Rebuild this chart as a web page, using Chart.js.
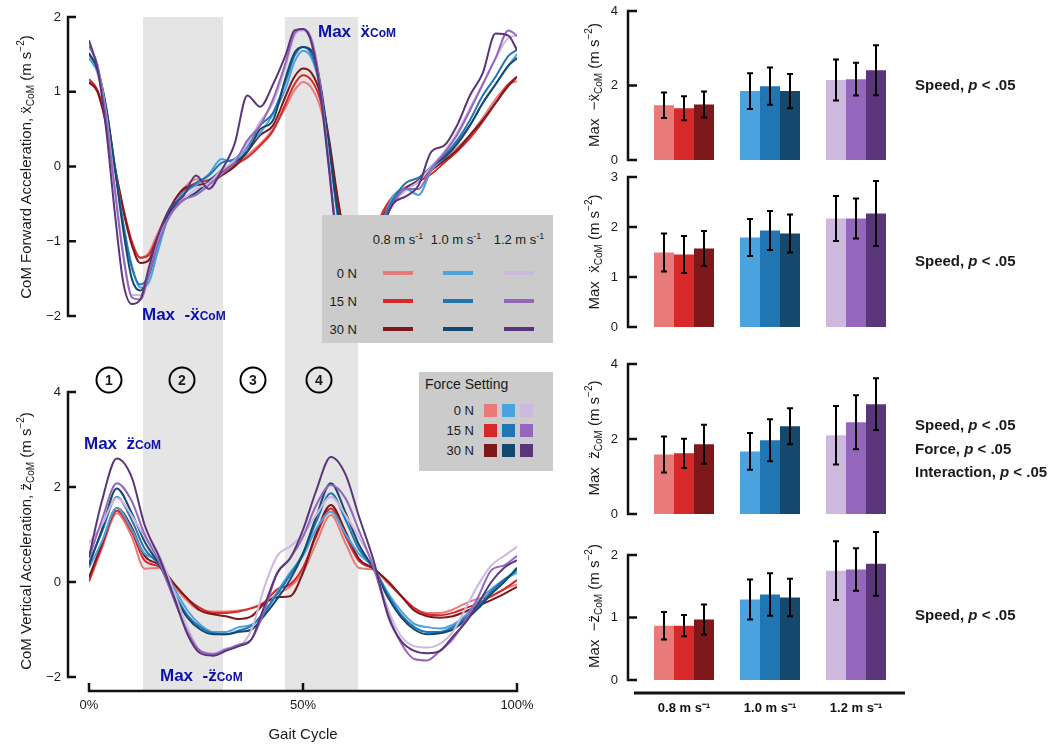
<!DOCTYPE html>
<html>
<head>
<meta charset="utf-8">
<script src="https://cdn.jsdelivr.net/npm/chart.js@4.4.1/dist/chart.umd.min.js"></script>
<style>
  body { margin: 0; background: #fff; }
  #fig { position: relative; width: 1063px; height: 745px; overflow: hidden;
         font-family: "Liberation Sans", Arial, sans-serif; color: #1a1a1a; }
  canvas { position: absolute; }
  .ytitle { position: absolute; transform: translate(-50%, -50%) rotate(-90deg);
            white-space: nowrap; font-size: 15px; }
  .ytitle sub { font-size: 10px; vertical-align: -3px; }
  .ytitle sup { font-size: 10px; vertical-align: 7px; }
  .note { position: absolute; color: #0c10aa; font-weight: bold; font-size: 17px;
          line-height: 1; white-space: nowrap; }
  .note small { font-size: 12px; }
  .phase { position: absolute; width: 23px; height: 23px; border: 2px solid #000; border-radius: 50%;
           transform: translate(-50%, -50%); font-weight: bold; font-size: 14px;
           line-height: 23px; text-align: center; }
  .legbox { position: absolute; background: #cbcbcb; }
  .lc { position: absolute; transform: translate(-50%, -50%); font-size: 13px; white-space: nowrap; }
  .lr { position: absolute; transform: translate(-100%, -50%); font-size: 13px; white-space: nowrap; }
  .ll { position: absolute; transform: translate(0, -50%); font-size: 14px; white-space: nowrap; }
  .lc sup { font-size: 9px; }
  .sw { position: absolute; }
  .stat { position: absolute; left: 915px; transform: translateY(-50%); font-weight: bold;
          font-size: 15px; white-space: nowrap; }
</style>
</head>
<body>
<div id="fig">
  <canvas id="fwd" width="530" height="340" style="left:0;top:0"></canvas>
  <canvas id="vert" width="545" height="405" style="left:0;top:340px"></canvas>
  <canvas id="barNegX" width="533" height="168" style="left:530px;top:0"></canvas>
  <canvas id="barX" width="533" height="172" style="left:530px;top:168px"></canvas>
  <canvas id="barZ" width="533" height="190" style="left:530px;top:340px"></canvas>
  <canvas id="barNegZ" width="533" height="215" style="left:530px;top:530px"></canvas>

  <!-- axis titles -->
  <div class="ytitle" style="left:25px;top:167px">CoM Forward Acceleration, ẍ<sub>CoM</sub> (m s<sup>−2</sup>)</div>
  <div class="ytitle" style="left:25px;top:541px">CoM Vertical Acceleration, z̈<sub>CoM</sub> (m s<sup>−2</sup>)</div>
  <div class="ytitle" style="left:593px;top:85px">Max&nbsp; −ẍ<sub>CoM</sub> (m s<sup>−2</sup>)</div>
  <div class="ytitle" style="left:593px;top:252px">Max&nbsp; ẍ<sub>CoM</sub> (m s<sup>−2</sup>)</div>
  <div class="ytitle" style="left:593px;top:438px">Max&nbsp; z̈<sub>CoM</sub> (m s<sup>−2</sup>)</div>
  <div class="ytitle" style="left:593px;top:606px">Max&nbsp; −z̈<sub>CoM</sub> (m s<sup>−2</sup>)</div>

  <!-- peak labels -->
  <div class="note" style="left:318px;top:23px">Max&nbsp; ẍ<small>CoM</small></div>
  <div class="note" style="left:142px;top:306px">Max&nbsp; -ẍ<small>CoM</small></div>
  <div class="note" style="left:84px;top:435px">Max&nbsp; z̈<small>CoM</small></div>
  <div class="note" style="left:160px;top:667px">Max&nbsp; -z̈<small>CoM</small></div>

  <!-- gait phases -->
  <div class="phase" style="left:109px;top:380px">1</div>
  <div class="phase" style="left:182px;top:380px">2</div>
  <div class="phase" style="left:253px;top:380px">3</div>
  <div class="phase" style="left:319px;top:380px">4</div>

  <!-- line legend -->
  <div class="legbox" style="left:322px;top:215px;width:231px;height:128px"></div>
  <div class="lc" style="left:398px;top:239px">0.8 m s<sup>-1</sup></div>
  <div class="lc" style="left:456px;top:239px">1.0 m s<sup>-1</sup></div>
  <div class="lc" style="left:519px;top:239px">1.2 m s<sup>-1</sup></div>
  <div class="lr" style="left:357px;top:273px">0 N</div>
  <div class="lr" style="left:357px;top:301px">15 N</div>
  <div class="lr" style="left:357px;top:329px">30 N</div>
  <div id="lineKey"></div>

  <!-- force legend -->
  <div class="legbox" style="left:419px;top:372px;width:134px;height:99px"></div>
  <div class="ll" style="left:425px;top:384px">Force Setting</div>
  <div class="lr" style="left:474px;top:410px">0 N</div>
  <div class="lr" style="left:474px;top:430px">15 N</div>
  <div class="lr" style="left:474px;top:450px">30 N</div>
  <div id="forceKey"></div>

  <!-- ANOVA results -->
  <div class="stat" style="top:84px">Speed, <i>p</i> &lt; .05</div>
  <div class="stat" style="top:260px">Speed, <i>p</i> &lt; .05</div>
  <div class="stat" style="top:424px">Speed, <i>p</i> &lt; .05</div>
  <div class="stat" style="top:448px">Force, <i>p</i> &lt; .05</div>
  <div class="stat" style="top:471px">Interaction, <i>p</i> &lt; .05</div>
  <div class="stat" style="top:614px">Speed, <i>p</i> &lt; .05</div>
</div>

<script>
// gait cycle (%) sample points
const GAIT_FWD = [0, 2, 4, 6, 8, 10, 12, 14, 16, 19, 22, 25, 28, 31, 34, 37, 40, 43, 46, 48,
                  50, 52, 54, 56, 58, 60, 62, 65, 68, 71, 74, 77, 80, 83, 86, 89, 92, 95, 98, 100];
const GAIT_VERT = [0, 3, 6.5, 10, 13, 16.5, 20, 23, 26, 29, 32, 35, 38, 41, 44, 47, 50,
                   53, 56.5, 60, 63, 66.5, 70, 73, 76, 79, 82, 85, 88, 91, 94, 97, 100];
const PHASES = [[12.6, 31.3], [45.8, 62.9]];

const SPEED_LABELS = ['0.8 m s⁻¹', '1.0 m s⁻¹', '1.2 m s⁻¹'];
const FORCE_LABELS = ['0 N', '15 N', '30 N'];
const RED = ['#e87a7a', '#d7282a', '#7e181b'];
const BLUE = ['#4aa2de', '#1f76b3', '#14486d'];
const PURPLE = ['#cdb9dd', '#9467bd', '#5a3579'];
const SPEED_COLORS = [RED, BLUE, PURPLE];

// forward CoM acceleration, one row per force (0, 15, 30 N)
const FWD_08 = [
  [1.12, 1.0, 0.55, -0.05, -0.6, -1.02, -1.22, -1.15, -0.9, -0.55, -0.3, -0.17, -0.2, -0.1, 0.0, 0.15, 0.3, 0.5, 0.8, 1.02,
   1.13, 1.05, 0.8, 0.3, -0.45, -1.0, -1.22, -1.1, -0.7, -0.42, -0.3, -0.2, -0.05, 0.1, 0.25, 0.42, 0.65, 0.9, 1.1, 1.14],
  [1.17, 1.02, 0.6, 0.0, -0.55, -1.0, -1.22, -1.18, -0.95, -0.6, -0.33, -0.22, -0.18, -0.08, 0.02, 0.12, 0.28, 0.48, 0.85, 1.1,
   1.22, 1.15, 0.9, 0.35, -0.42, -0.98, -1.22, -1.12, -0.68, -0.4, -0.28, -0.2, -0.1, 0.05, 0.2, 0.38, 0.6, 0.85, 1.1, 1.2],
  [1.13, 1.0, 0.58, 0.0, -0.58, -1.05, -1.29, -1.25, -0.95, -0.55, -0.3, -0.25, -0.22, -0.12, 0.0, 0.2, 0.42, 0.55, 0.95, 1.2,
   1.31, 1.25, 0.98, 0.4, -0.38, -1.0, -1.28, -1.2, -0.75, -0.45, -0.3, -0.18, -0.05, 0.08, 0.22, 0.42, 0.62, 0.85, 1.08, 1.2]
];
const FWD_10 = [
  [1.45, 1.25, 0.75, 0.0, -0.75, -1.32, -1.62, -1.55, -1.15, -0.6, -0.35, -0.25, -0.1, 0.1, 0.05, 0.25, 0.45, 0.7, 1.05, 1.4,
   1.55, 1.45, 1.05, 0.25, -0.62, -1.3, -1.6, -1.4, -0.85, -0.4, -0.3, -0.38, -0.05, 0.12, 0.32, 0.55, 0.85, 1.1, 1.35, 1.5],
  [1.5, 1.3, 0.78, 0.02, -0.78, -1.35, -1.58, -1.45, -1.05, -0.6, -0.38, -0.22, -0.12, 0.05, 0.1, 0.28, 0.55, 0.72, 1.15, 1.48,
   1.6, 1.5, 1.08, 0.28, -0.6, -1.25, -1.58, -1.4, -0.8, -0.45, -0.22, -0.15, 0.0, 0.15, 0.35, 0.62, 0.95, 1.2, 1.48, 1.56],
  [1.52, 1.3, 0.8, 0.0, -0.85, -1.5, -1.66, -1.45, -1.0, -0.6, -0.45, -0.35, -0.2, -0.05, 0.05, 0.2, 0.5, 0.62, 1.2, 1.52,
   1.6, 1.55, 1.12, 0.32, -0.55, -1.25, -1.62, -1.45, -0.9, -0.5, -0.3, -0.2, 0.0, 0.12, 0.3, 0.55, 0.85, 1.1, 1.35, 1.45]
];
const FWD_12 = [
  [1.6, 1.35, 0.7, -0.25, -1.15, -1.72, -1.72, -1.4, -1.0, -0.65, -0.45, -0.3, -0.22, -0.05, 0.08, 0.3, 0.6, 0.85, 1.35, 1.75,
   1.82, 1.65, 1.05, 0.1, -0.95, -1.55, -1.78, -1.5, -0.85, -0.5, -0.32, -0.2, 0.0, 0.2, 0.45, 0.78, 1.1, 1.45, 1.72, 1.75],
  [1.62, 1.35, 0.65, -0.3, -1.2, -1.75, -1.78, -1.45, -1.05, -0.65, -0.45, -0.38, -0.25, -0.1, 0.05, 0.35, 0.55, 0.9, 1.4, 1.78,
   1.84, 1.7, 1.1, 0.05, -1.0, -1.6, -1.8, -1.5, -0.85, -0.5, -0.3, -0.3, -0.02, 0.18, 0.42, 0.75, 1.1, 1.45, 1.82, 1.75],
  [1.69, 1.3, 0.5, -0.6, -1.55, -1.84, -1.78, -1.35, -0.95, -0.55, -0.4, -0.12, -0.3, -0.05, 0.3, 0.95, 0.8, 1.1, 1.5, 1.82,
   1.84, 1.65, 1.0, 0.0, -1.05, -1.65, -1.85, -1.55, -0.9, -0.5, -0.4, -0.25, 0.2, 0.28, 0.55, 0.95, 1.25, 1.78, 1.75, 1.56]
];

// vertical CoM acceleration, one row per force (0, 15, 30 N)
const VERT_08 = [
  [0.0, 0.7, 1.45, 0.95, 0.28, 0.3, -0.1, -0.4, -0.6, -0.62, -0.62, -0.6, -0.55, -0.45, -0.25, -0.1, 0.2,
   0.8, 1.41, 0.8, 0.3, 0.26, -0.05, -0.3, -0.55, -0.65, -0.65, -0.58, -0.45, -0.35, -0.3, -0.15, -0.05],
  [0.03, 0.75, 1.5, 1.05, 0.45, 0.32, -0.05, -0.35, -0.55, -0.65, -0.65, -0.62, -0.55, -0.42, -0.15, -0.05, 0.3,
   0.95, 1.55, 0.95, 0.45, 0.28, 0.0, -0.3, -0.55, -0.68, -0.7, -0.65, -0.55, -0.45, -0.3, -0.15, 0.04],
  [0.1, 0.8, 1.56, 1.15, 0.55, 0.35, -0.05, -0.35, -0.6, -0.68, -0.72, -0.78, -0.72, -0.45, -0.32, -0.3, 0.2,
   1.0, 1.62, 1.05, 0.5, 0.28, 0.0, -0.3, -0.6, -0.72, -0.75, -0.72, -0.62, -0.5, -0.38, -0.25, -0.1]
];
const VERT_10 = [
  [0.3, 0.85, 1.56, 1.1, 0.6, 0.45, -0.15, -0.6, -0.9, -1.05, -1.05, -0.95, -0.9, -0.65, -0.2, 0.2, 0.55,
   1.1, 1.48, 1.0, 0.6, 0.3, -0.25, -0.62, -0.88, -0.95, -0.98, -0.9, -0.7, -0.4, -0.15, 0.05, 0.2],
  [0.4, 1.05, 1.79, 1.3, 0.7, 0.35, -0.25, -0.7, -0.95, -1.08, -1.1, -1.02, -0.92, -0.62, -0.25, 0.15, 0.6,
   1.25, 1.87, 1.3, 0.7, 0.3, -0.3, -0.7, -0.95, -1.05, -1.05, -0.95, -0.75, -0.5, -0.2, 0.05, 0.25],
  [0.35, 1.1, 1.97, 1.45, 0.85, 0.35, -0.3, -0.75, -1.0, -1.1, -1.1, -1.05, -1.0, -0.7, -0.35, 0.05, 0.6,
   1.35, 2.08, 1.45, 0.8, 0.28, -0.35, -0.75, -1.0, -1.1, -1.08, -1.0, -0.8, -0.55, -0.25, 0.0, 0.3]
];
const VERT_12 = [
  [0.82, 1.2, 1.77, 1.4, 0.95, 0.55, -0.25, -0.95, -1.45, -1.5, -1.4, -1.35, -1.0, -0.1, 0.55, 0.75, 1.0,
   1.4, 1.79, 1.4, 0.95, 0.35, -0.6, -1.15, -1.35, -1.38, -1.3, -1.05, -0.55, -0.05, 0.35, 0.55, 0.74],
  [0.5, 1.3, 2.08, 1.7, 1.0, 0.4, -0.4, -1.05, -1.45, -1.52, -1.42, -1.32, -1.2, -0.6, 0.2, 0.5, 0.95,
   1.6, 2.04, 1.75, 1.1, 0.3, -0.7, -1.3, -1.62, -1.65, -1.45, -1.2, -0.8, -0.3, 0.25, 0.35, 0.55],
  [0.53, 1.7, 2.6, 2.2, 1.2, 0.5, -0.35, -1.1, -1.5, -1.55, -1.45, -1.35, -1.2, -0.5, 0.19, 0.5, 1.1,
   1.9, 2.63, 2.25, 1.4, 0.45, -0.75, -1.25, -1.45, -1.5, -1.45, -1.15, -0.85, -0.45, 0.0, 0.3, 0.46]
];

// peak values: rows = force (0, 15, 30 N), columns = speed (0.8, 1.0, 1.2 m/s)
const NEG_X_MEAN = [[1.47, 1.85, 2.15], [1.39, 1.98, 2.17], [1.49, 1.85, 2.41]];
const NEG_X_SD = [[0.34, 0.48, 0.55], [0.32, 0.50, 0.44], [0.35, 0.46, 0.67]];
const POS_X_MEAN = [[1.49, 1.79, 2.17], [1.45, 1.93, 2.17], [1.57, 1.87, 2.27]];
const POS_X_SD = [[0.38, 0.37, 0.45], [0.37, 0.39, 0.40], [0.35, 0.38, 0.65]];
const POS_Z_MEAN = [[1.59, 1.67, 2.10], [1.62, 1.97, 2.45], [1.86, 2.34, 2.93]];
const POS_Z_SD = [[0.48, 0.49, 0.78], [0.39, 0.56, 0.72], [0.52, 0.48, 0.69]];
const NEG_Z_MEAN = [[0.87, 1.29, 1.75], [0.87, 1.37, 1.77], [0.97, 1.32, 1.86]];
const NEG_Z_SD = [[0.22, 0.32, 0.47], [0.17, 0.34, 0.34], [0.24, 0.30, 0.51]];

Chart.defaults.font.family = '"Liberation Sans", Arial, sans-serif';
Chart.defaults.font.size = 13;
Chart.defaults.color = '#1a1a1a';
Chart.defaults.animation = false;
Chart.defaults.plugins.legend.display = false;
Chart.defaults.plugins.tooltip.enabled = false;

const minus = v => String(v).replace('-', '\u2212');

// pin the scale box size so the plot areas line up across canvases
const fixSize = (w, h) => scale => {
  if (w !== undefined) scale.width = w;
  if (h !== undefined) scale.height = h;
  scale.paddingLeft = scale.paddingRight = scale.paddingTop = scale.paddingBottom = 0;
};

const noGrid = { display: false, drawTicks: false };

// shaded gait phases
const phaseBands = {
  id: 'phaseBands',
  beforeDatasetsDraw(chart, args, opts) {
    const { ctx, chartArea, scales: { x } } = chart;
    const top = opts.top === 'area' ? chartArea.top : opts.top;
    ctx.save();
    ctx.fillStyle = '#e5e5e5';
    for (const [a, b] of PHASES) {
      const x0 = x.getPixelForValue(a);
      const x1 = x.getPixelForValue(b);
      ctx.fillRect(x0, top, x1 - x0, opts.bottom - top);
    }
    ctx.restore();
  }
};

// detached axis lines with inward ticks
const offsetAxes = {
  id: 'offsetAxes',
  afterDraw(chart, args, opts) {
    const { ctx, chartArea, scales } = chart;
    ctx.save();
    ctx.strokeStyle = '#111';
    ctx.lineWidth = 2.5;
    if (opts.y) {
      const s = scales.y;
      const ax = chartArea.left - opts.y.gap;
      const t = opts.y.tick;
      ctx.beginPath();
      ctx.moveTo(ax, s.getPixelForValue(opts.y.from));
      ctx.lineTo(ax, s.getPixelForValue(opts.y.to));
      for (const tk of s.ticks) {
        const py = s.getPixelForValue(tk.value);
        ctx.moveTo(ax - 1.2, py);
        ctx.lineTo(ax + t, py);
      }
      ctx.stroke();
    }
    if (opts.x) {
      const s = scales.x;
      const ay = chartArea.bottom + opts.x.gap;
      ctx.beginPath();
      ctx.moveTo(s.getPixelForValue(opts.x.from), ay);
      ctx.lineTo(s.getPixelForValue(opts.x.to), ay);
      for (const tk of s.ticks) {
        const px = s.getPixelForValue(tk.value);
        ctx.moveTo(px, ay + 1.2);
        ctx.lineTo(px, ay - opts.x.tick);
      }
      ctx.stroke();
    }
    if (opts.base) {
      const ay = chartArea.bottom + opts.base.gap;
      ctx.lineWidth = 3;
      ctx.beginPath();
      ctx.moveTo(chartArea.left - opts.base.left, ay);
      ctx.lineTo(chartArea.right + opts.base.right, ay);
      ctx.stroke();
    }
    ctx.restore();
  }
};

// mean ± SD whiskers
const errorBars = {
  id: 'errorBars',
  afterDatasetsDraw(chart) {
    const { ctx, scales: { y } } = chart;
    ctx.save();
    ctx.strokeStyle = '#000';
    ctx.lineWidth = 2;
    chart.data.datasets.forEach((ds, i) => {
      chart.getDatasetMeta(i).data.forEach((bar, j) => {
        const hi = y.getPixelForValue(ds.data[j] + ds.sd[j]);
        const lo = y.getPixelForValue(ds.data[j] - ds.sd[j]);
        ctx.beginPath();
        ctx.moveTo(bar.x, hi); ctx.lineTo(bar.x, lo);
        ctx.moveTo(bar.x - 3, hi); ctx.lineTo(bar.x + 3, hi);
        ctx.moveTo(bar.x - 3, lo); ctx.lineTo(bar.x + 3, lo);
        ctx.stroke();
      });
    });
    ctx.restore();
  }
};

function lineSets(xs, groups) {
  const sets = [];
  // first dataset is painted last, so the 1.2 m/s traces sit on top
  for (let s = 2; s >= 0; s--) {
    for (let f = 2; f >= 0; f--) {
      sets.push({
        label: SPEED_LABELS[s] + ' ' + FORCE_LABELS[f],
        data: xs.map((x, i) => ({ x, y: groups[s][f][i] })),
        borderColor: SPEED_COLORS[s][f],
        borderWidth: 2,
        pointRadius: 0,
        cubicInterpolationMode: 'monotone',
        fill: false
      });
    }
  }
  return sets;
}

new Chart(document.getElementById('fwd'), {
  type: 'line',
  data: { datasets: lineSets(GAIT_FWD, [FWD_08, FWD_10, FWD_12]) },
  options: {
    responsive: false,
    layout: { padding: { top: 17, right: 13, bottom: 24, left: 0 } },
    scales: {
      x: { type: 'linear', min: 0, max: 100, display: false },
      y: {
        min: -2, max: 2, grid: noGrid, border: { display: false },
        ticks: { stepSize: 1, padding: 28, callback: minus },
        afterFit: fixSize(89)
      }
    },
    plugins: {
      phaseBands: { top: 'area', bottom: 340 },
      offsetAxes: { y: { gap: 21, from: -2, to: 2, tick: 8 } }
    }
  },
  plugins: [phaseBands, offsetAxes]
});

new Chart(document.getElementById('vert'), {
  type: 'line',
  data: { datasets: lineSets(GAIT_VERT, [VERT_08, VERT_10, VERT_12]) },
  options: {
    responsive: false,
    layout: { padding: { top: 52, right: 28, bottom: 0, left: 0 } },
    scales: {
      x: {
        type: 'linear', min: 0, max: 100, grid: noGrid, border: { display: false },
        ticks: { stepSize: 50, padding: 21, maxRotation: 0, callback: v => v + '%' },
        title: { display: true, text: 'Gait Cycle', font: { size: 15 }, padding: { top: 0, bottom: 1 } },
        afterFit: fixSize(undefined, 68)
      },
      y: {
        min: -2, max: 4, grid: noGrid, border: { display: false },
        ticks: { stepSize: 2, padding: 28, callback: minus },
        afterFit: fixSize(89)
      }
    },
    plugins: {
      phaseBands: { top: 0, bottom: 351 },
      offsetAxes: {
        y: { gap: 21, from: -2, to: 4, tick: 8 },
        x: { gap: 14, from: 0, to: 100, tick: 8 }
      }
    }
  },
  plugins: [phaseBands, offsetAxes]
});

function barChart(id, means, sds, o) {
  const x = o.showX ? {
    grid: noGrid, border: { display: false },
    ticks: { padding: 21, maxRotation: 0, color: '#111', font: { weight: 'bold', size: 13 } },
    afterFit: fixSize(undefined, o.xHeight)
  } : { display: false };
  return new Chart(document.getElementById(id), {
    type: 'bar',
    data: {
      labels: SPEED_LABELS,
      datasets: FORCE_LABELS.map((f, k) => ({
        label: f,
        data: means[k],
        sd: sds[k],
        backgroundColor: SPEED_COLORS.map(c => c[k]),
        borderWidth: 0,
        categoryPercentage: 60 / 86,
        barPercentage: 1
      }))
    },
    options: {
      responsive: false,
      layout: { padding: { top: o.top, bottom: o.bottom, right: 164, left: 0 } },
      scales: {
        x,
        y: {
          min: 0, max: o.max, grid: noGrid, border: { display: false },
          ticks: { stepSize: o.step, padding: 23 },
          afterBuildTicks: o.ticks ? s => { s.ticks = o.ticks.map(v => ({ value: v })); } : undefined,
          afterFit: fixSize(111)
        }
      },
      plugins: {
        offsetAxes: { y: { gap: 13, from: 0, to: o.axisTo, tick: 9 }, base: o.base }
      }
    },
    plugins: [errorBars, offsetAxes]
  });
}

barChart('barNegX', NEG_X_MEAN, NEG_X_SD, { top: 11, bottom: 8, max: 4, step: 2, axisTo: 4 });
barChart('barX', POS_X_MEAN, POS_X_SD, { top: 9, bottom: 13, max: 3, step: 1, axisTo: 3 });
barChart('barZ', POS_Z_MEAN, POS_Z_SD, { top: 24, bottom: 16, max: 4, step: 2, axisTo: 4 });
barChart('barNegZ', NEG_Z_MEAN, NEG_Z_SD, {
  top: 0, bottom: 0, max: 2.4, ticks: [0, 1, 2], axisTo: 2,
  showX: true, xHeight: 65, base: { gap: 13, left: 7, right: 6 }
});

// legend swatches
const lineKey = document.getElementById('lineKey');
const forceKey = document.getElementById('forceKey');
const keyCols = [383, 443, 504];
const keyRows = [273, 301, 329];
const boxCols = [484, 502, 520];
const boxRows = [410, 430, 450];
SPEED_COLORS.forEach((cols, s) => {
  cols.forEach((c, f) => {
    const a = document.createElement('div');
    a.className = 'sw';
    a.style.cssText = `left:${keyCols[s]}px;top:${keyRows[f] - 2}px;width:30px;height:4px;background:${c}`;
    lineKey.appendChild(a);
    const b = document.createElement('div');
    b.className = 'sw';
    b.style.cssText = `left:${boxCols[s]}px;top:${boxRows[f] - 6.5}px;width:13px;height:13px;background:${c}`;
    forceKey.appendChild(b);
  });
});
</script>
</body>
</html>
